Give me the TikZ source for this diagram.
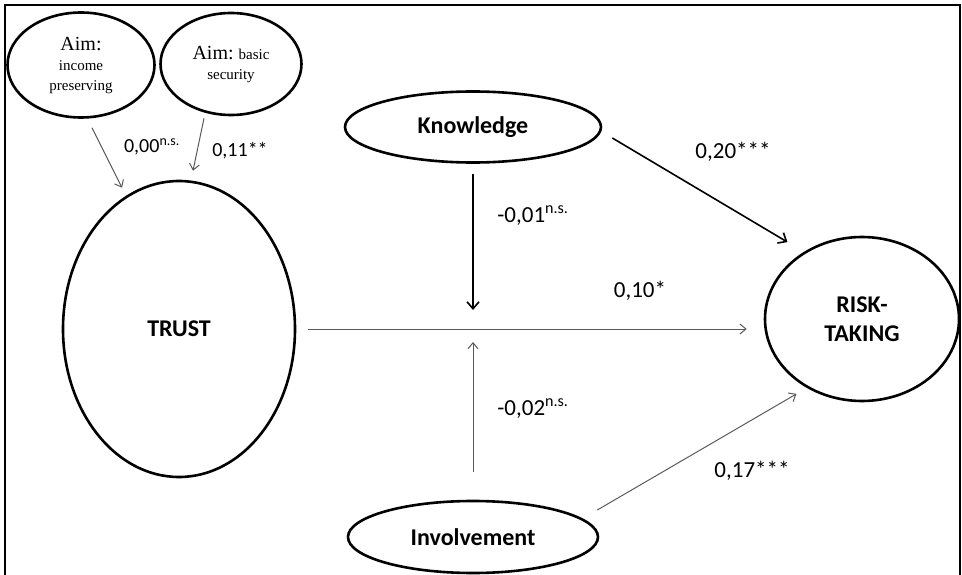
\documentclass[tikz,border=0pt]{standalone}
\usepackage{fontspec}
\setmainfont{Liberation Serif}
\setsansfont{Carlito}
\usetikzlibrary{arrows.meta,shapes.geometric}
\definecolor{thin}{HTML}{5A5A5A}
\newcommand{\nsig}{\textsuperscript{n.s.}}
\newcommand{\aimhead}[1]{{\fontsize{20}{22}\selectfont #1}}
\tikzset{
  lv/.style={draw,ellipse,line width=2.6pt,inner sep=0pt,align=center,font=\sffamily\bfseries\fontsize{24}{29}\selectfont},
  aim/.style={lv,font=\rmfamily\fontsize{15}{20}\selectfont},
  coef/.style={inner sep=1pt,font=\sffamily\fontsize{23}{26}\selectfont},
  coefs/.style={coef,font=\sffamily\fontsize{20}{24}\selectfont},
  gar/.style={-{Straight Barb[length=6pt,width=10pt]},line width=1pt,draw=thin},
  bar/.style={-{Straight Barb[length=7pt,width=12pt]},line width=1.6pt},
  frame/.style={line width=2.2pt},
}
\begin{document}
\begin{tikzpicture}[x=1pt,y=-1pt]
\useasboundingbox (0,0) rectangle (962,575);
\draw[frame] (5,576) -- (5,5) -- (960,5) -- (960,576);
% constructs
\node[aim,minimum width=147,minimum height=105] (aimi) at (81,65) {\aimhead{Aim:}\\income\\preserving};
\node[aim,minimum width=141,minimum height=102] (aims) at (231,64) {\aimhead{Aim:} basic\\security};
\node[lv,minimum width=232,minimum height=296] (trust) at (179,329) {TRUST};
\node[lv,minimum width=256,minimum height=71] (know) at (473,127) {Knowledge};
\node[lv,minimum width=250,minimum height=72] (inv) at (473,537) {Involvement};
\node[lv,minimum width=194,minimum height=164] (risk) at (862,319) {RISK-\\TAKING};
\coordinate (mod) at (473,329);
% paths
\draw[gar] ([shift={(11,9)}]aimi.south) -- ([shift={(-57,8)}]trust.north);
\draw[gar] ([shift={(-27,2)}]aims.south) -- ([shift={(14,-9)}]trust.north);
\draw[gar,shorten <=12pt,shorten >=17pt] (trust.east) -- (trust.east -| risk.west);
\draw[bar,shorten <=10pt,shorten >=19pt] (know.south) -- (mod);
\draw[gar,shorten <=28pt,shorten >=13pt] (inv.north) -- (mod);
\draw[bar] ([shift={(10,11)}]know.east) -- ([shift={(-5,-18)}]risk.north west);
\draw[gar] ([shift={(-2,-27)}]inv.east) -- ([shift={(4,16)}]risk.south west);
% coefficients
\node[coefs] (c1) at (152,147) {0,00\nsig};
\node[coefs] (c2) at (240,151) {0,11**};
\node[coef] (c3) at (733,152) {0,20***};
\node[coef] (c4) at (533,216) {-0,01\nsig};
\node[coef] (c5) at (640,291) {0,10*};
\node[coef] (c6) at (533,409) {-0,02\nsig};
\node[coef] (c7) at (752,471) {0,17***};
\end{tikzpicture}
\end{document}
